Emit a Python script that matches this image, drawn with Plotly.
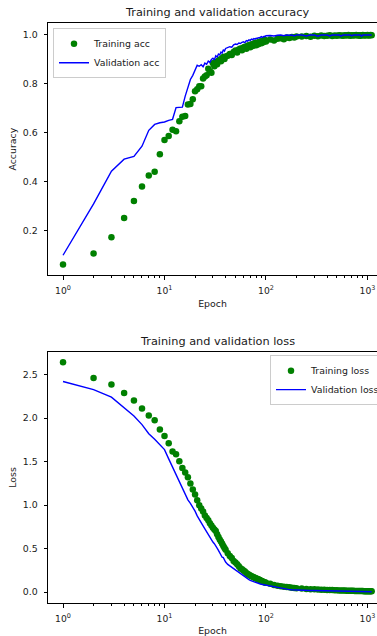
import plotly.graph_objects as go
from plotly.subplots import make_subplots

# ---------------- data ----------------
epochs = list(range(1, 41)) + list(range(42, 101, 2)) + list(range(110, 201, 10)) + list(range(225, 1101, 25))

train_acc = [
    0.061, 0.106, 0.173, 0.251, 0.321, 0.380, 0.425, 0.441, 0.512, 0.570,
    0.587, 0.612, 0.606, 0.647, 0.665, 0.669, 0.716, 0.718, 0.737, 0.770,
    0.778, 0.790, 0.790, 0.822, 0.830, 0.835, 0.862, 0.852, 0.846, 0.884,
    0.872, 0.889, 0.880, 0.895, 0.900, 0.893, 0.905, 0.910, 0.902, 0.912,
    0.915, 0.922, 0.918, 0.930, 0.936, 0.928, 0.941, 0.945, 0.938, 0.949,
    0.952, 0.944, 0.956, 0.958, 0.950, 0.962, 0.955, 0.964, 0.967, 0.958,
    0.969, 0.962, 0.971, 0.973, 0.966, 0.975, 0.970, 0.977, 0.979, 0.973,
    0.981, 0.977, 0.985, 0.987, 0.983, 0.990, 0.988, 0.992, 0.990, 0.994,
    0.994, 0.996, 0.993, 0.997, 0.995, 0.998, 0.996, 0.997, 0.999, 0.996,
    0.998, 0.997, 0.999, 0.998, 0.997, 0.999, 0.998, 1.000, 0.997, 0.999,
    0.998, 0.999, 1.000, 0.998, 0.999, 0.997, 0.999, 1.000, 0.998, 0.999,
    0.999, 1.000, 0.998, 0.999, 1.000, 0.999,
]

val_acc = [
    0.099, 0.309, 0.443, 0.492, 0.503, 0.545, 0.610, 0.634, 0.641, 0.644,
    0.651, 0.655, 0.703, 0.703, 0.705, 0.750, 0.785, 0.818, 0.835, 0.856,
    0.876, 0.872, 0.878, 0.870, 0.885, 0.880, 0.893, 0.888, 0.900, 0.905,
    0.898, 0.915, 0.910, 0.922, 0.918, 0.930, 0.926, 0.940, 0.934, 0.945,
    0.948, 0.952, 0.950, 0.960, 0.963, 0.961, 0.967, 0.965, 0.970, 0.972,
    0.969, 0.977, 0.975, 0.980, 0.978, 0.983, 0.981, 0.985, 0.983, 0.987,
    0.986, 0.989, 0.988, 0.991, 0.993, 0.990, 0.994, 0.995, 0.993, 0.997,
    0.998, 0.996, 0.999, 1.000, 0.997, 1.000, 0.999, 1.000, 0.996, 1.000,
    1.000, 0.996, 1.000, 1.000, 0.995, 1.000, 1.000, 1.000, 0.996, 1.000,
    1.000, 1.000, 1.000, 0.995, 1.000, 1.000, 1.000, 1.000, 1.000, 0.996,
    1.000, 1.000, 1.000, 1.000, 1.000, 1.000, 0.995, 1.000, 1.000, 1.000,
    1.000, 1.000, 1.000, 1.000, 1.000, 1.000,
]

train_loss = [
    2.640, 2.460, 2.384, 2.287, 2.200, 2.108, 2.028, 1.973, 1.867, 1.793,
    1.709, 1.615, 1.583, 1.504, 1.424, 1.374, 1.318, 1.246, 1.177, 1.120,
    1.054, 0.997, 0.960, 0.925, 0.880, 0.850, 0.824, 0.790, 0.765, 0.740,
    0.720, 0.700, 0.665, 0.632, 0.605, 0.580, 0.556, 0.530, 0.505, 0.485,
    0.445, 0.415, 0.390, 0.358, 0.338, 0.318, 0.295, 0.272, 0.262, 0.248,
    0.235, 0.218, 0.208, 0.198, 0.190, 0.182, 0.175, 0.170, 0.162, 0.158,
    0.150, 0.146, 0.140, 0.135, 0.128, 0.124, 0.117, 0.113, 0.110, 0.106,
    0.094, 0.082, 0.072, 0.066, 0.062, 0.057, 0.054, 0.050, 0.047, 0.044,
    0.040, 0.036, 0.033, 0.031, 0.029, 0.027, 0.026, 0.024, 0.023, 0.022,
    0.021, 0.020, 0.019, 0.018, 0.018, 0.017, 0.016, 0.015, 0.015, 0.014,
    0.014, 0.013, 0.013, 0.012, 0.012, 0.011, 0.011, 0.011, 0.010, 0.010,
    0.010, 0.009, 0.009, 0.009, 0.008, 0.008,
]

val_loss = [
    2.420, 2.326, 2.240, 2.120, 2.023, 1.924, 1.820, 1.755, 1.698, 1.637,
    1.530, 1.437, 1.360, 1.284, 1.200, 1.130, 1.060, 1.020, 0.977, 0.930,
    0.875, 0.840, 0.800, 0.760, 0.725, 0.690, 0.665, 0.635, 0.605, 0.575,
    0.555, 0.535, 0.505, 0.479, 0.455, 0.430, 0.400, 0.395, 0.365, 0.345,
    0.318, 0.300, 0.283, 0.269, 0.255, 0.240, 0.222, 0.208, 0.195, 0.182,
    0.172, 0.162, 0.152, 0.142, 0.134, 0.128, 0.122, 0.116, 0.110, 0.106,
    0.102, 0.098, 0.094, 0.092, 0.089, 0.087, 0.085, 0.081, 0.078, 0.075,
    0.064, 0.055, 0.047, 0.040, 0.035, 0.031, 0.028, 0.026, 0.024, 0.022,
    0.021, 0.020, 0.018, 0.017, 0.016, 0.015, 0.014, 0.013, 0.012, 0.011,
    0.011, 0.010, 0.010, 0.009, 0.009, 0.008, 0.008, 0.008, 0.007, 0.007,
    0.007, 0.006, 0.006, 0.006, 0.006, 0.005, 0.005, 0.005, 0.005, 0.005,
    0.004, 0.004, 0.004, 0.004, 0.004, 0.004,
]

x_tick_vals = [1, 10, 100, 1000]
x_tick_text = ["10<sup>0</sup>", "10<sup>1</sup>", "10<sup>2</sup>", "10<sup>3</sup>"]
acc_ticks = [0.2, 0.4, 0.6, 0.8, 1.0]
loss_ticks = [0.0, 0.5, 1.0, 1.5, 2.0, 2.5]

# ---------------- figure ----------------
W, H = 377, 636
ML, MT, MR = 48, 23, 0
BOT = 602.7                        # bottom plot's lower edge (page px)
MB = H - BOT
plot_h = H - MT - MB
plot_w = W - ML - MR


def py(page_y):
    return (BOT - page_y) / plot_h


def px(page_x):
    return (page_x - ML) / plot_w


top_dom = [py(275.3), 1.0]
bot_dom = [0.0, py(351.7)]

FONT = "DejaVu Sans"
TXT = "#1a1a1a"

fig = make_subplots(rows=2, cols=1)

fig.add_trace(go.Scatter(x=epochs, y=train_acc, mode="markers", name="Training acc",
                         marker=dict(color="#008000", size=6.5), legend="legend"), row=1, col=1)
fig.add_trace(go.Scatter(x=epochs, y=val_acc, mode="lines", name="Validation acc",
                         line=dict(color="#0000ff", width=1.4), legend="legend"), row=1, col=1)
fig.add_trace(go.Scatter(x=epochs, y=train_loss, mode="markers", name="Training loss",
                         marker=dict(color="#008000", size=6.5), legend="legend2"), row=2, col=1)
fig.add_trace(go.Scatter(x=epochs, y=val_loss, mode="lines", name="Validation loss",
                         line=dict(color="#0000ff", width=1.4), legend="legend2"), row=2, col=1)

minor_vals = [m * 10 ** d for d in range(0, 4) for m in range(2, 10)]

xcommon = dict(type="log", range=[-0.148, 3.094], tickmode="array",
               tickvals=x_tick_vals, ticktext=x_tick_text, automargin=False,
               showline=True, linecolor="black", linewidth=1, mirror=True,
               ticks="outside", ticklen=3.5, tickwidth=0.8, tickcolor="black",
               showgrid=False, zeroline=False, ticklabelstandoff=3,
               tickfont=dict(family=FONT, size=9.2, color=TXT),
               minor=dict(tickmode="array", tickvals=minor_vals, ticks="outside",
                          ticklen=2, tickwidth=0.6, tickcolor="black", showgrid=False),
               title=dict(text="Epoch", font=dict(family=FONT, size=9.4, color=TXT), standoff=5))

fig.update_xaxes(**xcommon, row=1, col=1)
fig.update_xaxes(**xcommon, row=2, col=1)

ycommon = dict(showline=True, linecolor="black", linewidth=1, mirror=False, automargin=False,
               ticks="outside", ticklen=3.5, tickwidth=0.8, tickcolor="black",
               showgrid=False, zeroline=False, tickmode="array", ticklabelstandoff=4,
               tickfont=dict(family=FONT, size=9.4, color=TXT))

fig.update_yaxes(**ycommon, range=[0.0164, 1.049], tickvals=acc_ticks,
                 ticktext=[f"{v:.1f}" for v in acc_ticks], domain=top_dom,
                 title=dict(text="Accuracy", font=dict(family=FONT, size=9.4, color=TXT), standoff=4),
                 row=1, col=1)
fig.update_yaxes(**ycommon, range=[-0.126, 2.76], tickvals=loss_ticks,
                 ticktext=[f"{v:.1f}" for v in loss_ticks], domain=bot_dom,
                 title=dict(text="Loss", font=dict(family=FONT, size=9.4, color=TXT), standoff=4),
                 row=2, col=1)

title_x = px(217.5)
fig.add_annotation(text="Training and validation accuracy", x=title_x, y=py(13), xref="paper", yref="paper",
                   showarrow=False, xanchor="center", yanchor="middle",
                   font=dict(family=FONT, size=11.3, color=TXT))
fig.add_annotation(text="Training and validation loss", x=title_x, y=py(341), xref="paper", yref="paper",
                   showarrow=False, xanchor="center", yanchor="middle",
                   font=dict(family=FONT, size=11.3, color=TXT))

legend_style = dict(bgcolor="rgba(255,255,255,0.8)", bordercolor="#cccccc", borderwidth=1,
                    font=dict(family=FONT, size=9.4, color=TXT), itemwidth=30,
                    xanchor="left", yanchor="top", tracegroupgap=0)

fig.update_layout(
    width=W, height=H,
    margin=dict(l=ML, r=MR, t=MT, b=MB, pad=0, autoexpand=False),
    paper_bgcolor="white", plot_bgcolor="white",
    font=dict(family=FONT, size=9.4, color=TXT),
    showlegend=True,
    legend=dict(**legend_style, x=px(53), y=py(28.3)),
    legend2=dict(**legend_style, x=px(270), y=py(355)),
)

fig.write_html("out.html", config={"displayModeBar": False},
               post_script="document.body.style.margin='0';document.body.style.overflow='hidden';")
